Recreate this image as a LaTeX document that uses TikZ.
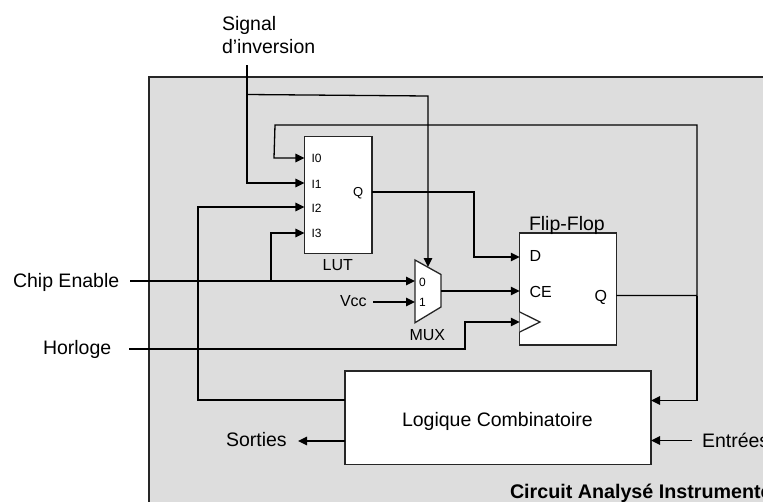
\documentclass[tikz,border=0pt]{standalone}
\usepackage{fontspec}
\setmainfont{Liberation Sans}
\usetikzlibrary{arrows.meta}
\definecolor{panelgray}{HTML}{DDDDDD}
\definecolor{edge}{HTML}{262626}
\tikzset{
  wire/.style={line width=1.3pt,draw=black,line join=miter},
  arr/.style={wire,-{Triangle[length=9pt,width=8.5pt]}},
  block/.style={draw=edge,line width=1.3pt,fill=white,rectangle,inner sep=0pt,outer sep=0pt},
  lab/.style={inner sep=0pt,outer sep=0pt,font=\fontsize{19.5}{23}\selectfont,text=black},
  pin/.style={lab,font=\fontsize{12}{14}\selectfont},
  midlab/.style={lab,font=\fontsize{16}{19}\selectfont},
}
\begin{document}
\begin{tikzpicture}[x=1pt,y=-1pt]
\useasboundingbox (0,0) rectangle (763,501);
\clip (0,0) rectangle (763,501);
% panel
\fill[panelgray,draw=edge,line width=1.3pt] (149,77) rectangle (790,530);
% blocks
\node[block,minimum width=67.5pt,minimum height=117.5pt] (lut) at (338.2,195) {};
\node[block,minimum width=96.5pt,minimum height=112pt] (ff) at (568,289) {};
\node[block,minimum width=306pt,minimum height=93.5pt] (logic) at (498,417.8) {};
\draw[block] (415,260) coordinate (muxtop) -- (441,274.5) -- (441,307) -- (415,322.7) -- cycle;
\draw[block] (519.7,312) -- (540,322) -- (519.7,332);
% anchors
\coordinate (muxin) at (428,267);
\coordinate (mux0) at (415,281);
\coordinate (mux1) at (415,302);
\coordinate (muxout) at (441,291);
\coordinate (sigtop) at (247,65);
\coordinate (chipstart) at (130,281);
\coordinate (clkstart) at (129,349);
\coordinate (vccstart) at (373,302);
\coordinate (entstart) at (692,440.5);
\coordinate (sortend) at (298,441);
% labels
\node[lab,anchor=base west] (sig1) at (222,30) {Signal};
\node[lab,anchor=base west] (sig2) at (222,53.5) {d’inversion};
\node[lab,anchor=base west] (chip) at (13,287.5) {Chip Enable};
\node[lab,anchor=base west] (hor) at (43,354.5) {Horloge};
\node[midlab,anchor=base west] (vcc) at (340,306.7) {Vcc};
\node[midlab,anchor=base west] (lutl) at (322.7,270) {LUT};
\node[midlab,anchor=base west] (muxl) at (409.5,340) {MUX};
\node[lab,anchor=base west] (ffl) at (529,230) {Flip-Flop};
\node[pin,anchor=base west] at (311.5,162.7) {I0};
\node[pin,anchor=base west] at (311.5,188) {I1};
\node[pin,anchor=base west] at (311.5,212) {I2};
\node[pin,anchor=base west] at (311.5,237.7) {I3};
\node[pin,anchor=base west,font=\fontsize{13}{15}\selectfont] at (353,196) {Q};
\node[pin,anchor=base west] at (419,286) {0};
\node[pin,anchor=base west] at (419,306) {1};
\node[midlab,anchor=base west] at (529.5,261) {D};
\node[midlab,anchor=base west] at (529.5,297.7) {CE};
\node[midlab,anchor=base west] at (594.5,301.7) {Q};
\node[lab,anchor=base west] (loglab) at (402,426.5) {Logique Combinatoire};
\node[lab,anchor=base west] (sortl) at (226,446) {Sorties};
\node[lab,anchor=base west] (entl) at (702,447.7) {Entrées};
\node[lab,anchor=base west,font=\fontsize{19.7}{23}\selectfont\bfseries] (title) at (510,498) {Circuit Analysé Instrumenté};
% connectors
\draw[arr] (sigtop) -- (247,183) -- (lut.west |- 0,183);
\draw[arr] (247,94.5) -- (428,96) -- (muxin);
\draw[arr] (ff.east |- 0,295.5) -- (697,295.5) -- (697,125) -- (275,125) -- (274,158) -- (lut.west |- 0,158);
\draw[arr] (697,295.5) -- (697,400.5) -- (logic.east |- 0,400.5);
\draw[arr] (logic.west |- 0,400) -- (198,400) -- (198,207) -- (lut.west |- 0,207);
\draw[arr] (271,281) -- (271,233) -- (lut.west |- 0,233);
\draw[arr] (chipstart) -- (mux0);
\draw[arr] (vccstart) -- (mux1);
\draw[arr] (muxout) -- (ff.west |- 0,291);
\draw[arr] (lut.east |- 0,192) -- (474,192) -- (474,257) -- (ff.west |- 0,257);
\draw[arr] (clkstart) -- (465,349) -- (465,322) -- (ff.west |- 0,322);
\draw[arr] (entstart) -- (logic.east |- entstart);
\draw[arr] (logic.west |- sortend) -- (sortend);
\end{tikzpicture}
\end{document}
